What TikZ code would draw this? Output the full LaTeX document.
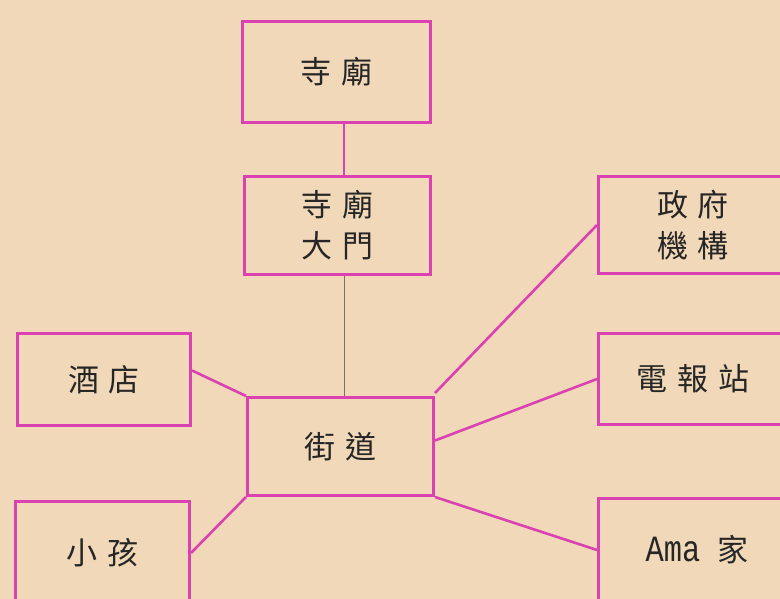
\documentclass[tikz,border=0pt]{standalone}
\usepackage{fontspec}
\newfontfamily\cjk{Noto Sans CJK TC}
\newfontfamily\monoA[FakeStretch=0.82]{Liberation Mono}
\usetikzlibrary{calc}
\definecolor{bg}{RGB}{241,216,184}
\definecolor{mag}{RGB}{218,66,178}
\definecolor{greyline}{RGB}{125,110,105}
\newcommand{\gp}{\hspace{0.32em}}
\tikzset{
  box/.style={draw=mag, line width=3pt, inner sep=0pt, align=center,
    font=\cjk\fontsize{31}{41}\selectfont, text=black!85},
  link/.style={draw=mag, line width=2.6pt},
}
\begin{document}
\begin{tikzpicture}[x=1pt,y=-1pt]
\fill[bg] (0,0) rectangle (780,599);
\useasboundingbox (0,0) rectangle (780,599);
\begin{scope}
\clip (0,0) rectangle (780,599);
\node[box, minimum width=188pt, minimum height=101pt] (simiao) at (336.5,72) {寺\gp 廟};
\node[box, minimum width=186pt, minimum height=98pt] (damen) at (337.5,225.5) {寺\gp 廟\\大\gp 門};
\node[box, minimum width=186pt, minimum height=98pt] (jiedao) at (340.5,446.5) {街\gp 道};
\node[box, minimum width=173pt, minimum height=92pt] (jiudian) at (104,379.5) {酒\gp 店};
\node[box, minimum width=174pt, minimum height=103pt] (xiaohai) at (102.5,553) {小\gp 孩};
\node[box, minimum width=189pt, minimum height=97pt] (zhengfu) at (693,225) {政\gp 府\\機\gp 構};
\node[box, minimum width=189pt, minimum height=91pt] (dianbao) at (693,379) {電\gp 報\gp 站};
\node[box, minimum width=189pt, minimum height=103pt] (ama) at (693,550) {\hspace{8pt}{\monoA\fontsize{37}{40}\selectfont Ama}\hspace{0.55em}家};
\coordinate (vx) at (344,0);
\draw[link] (simiao.south -| vx) -- (damen.north -| vx);
\draw[draw=greyline, line width=1pt] (damen.south -| vx) -- (jiedao.north -| vx);
\draw[link] ($(jiudian.east)+(0,-9)$) -- (jiedao.north west);
\draw[link] (xiaohai.east) -- (jiedao.south west);
\draw[link] ($(jiedao.north east)+(0,-3)$) -- (zhengfu.west);
\draw[link] ($(jiedao.east)+(0,-6)$) -- (dianbao.west);
\draw[link] (jiedao.south east) -- (ama.west);
\end{scope}
\end{tikzpicture}
\end{document}
